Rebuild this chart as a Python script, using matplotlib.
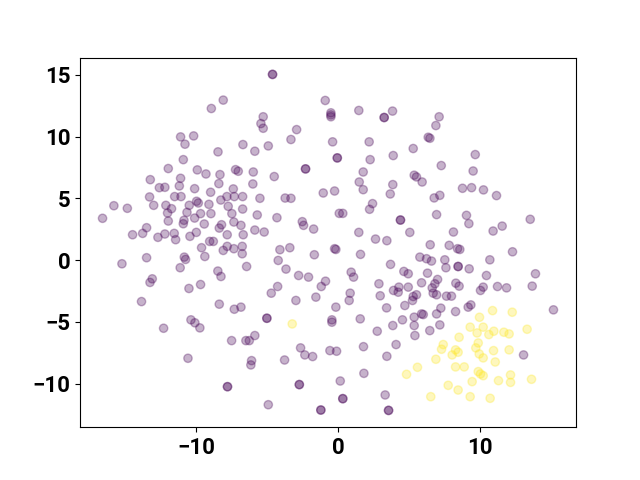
import numpy as np
import matplotlib.pyplot as plt

# points, (x, y); repeated entries are stacked points
purple_pts = [
    (-8.09, 12.95), (-8.93, 12.27), (-11.10, 9.97), (-10.18, 10.05), (-10.79, 9.38),
    (-6.70, 9.35), (-8.46, 8.76), (-10.91, 8.13), (-11.97, 7.41), (-9.92, 7.30),
    (-9.31, 6.97), (-7.22, 7.32), (-7.03, 7.19), (-8.32, 6.92), (-13.24, 6.51),
    (-11.10, 6.62), (-8.40, 6.19), (-12.60, 5.86), (-12.21, 5.89), (-11.19, 6.00),
    (-10.11, 5.78), (-7.38, 5.76), (-8.98, 5.49), (-13.29, 5.11), (-11.52, 5.14),
    (-11.07, 5.14), (-7.83, 5.14), (-7.31, 5.14), (-6.72, 5.14), (-15.81, 4.40),
    (-14.86, 4.19), (-13.00, 4.43), (-12.14, 4.43), (-11.74, 4.16), (-12.02, 3.81),
    (-10.49, 4.43), (-9.97, 4.76), (-9.85, 4.62), (-9.10, 4.51), (-8.26, 4.86),
    (-7.74, 4.35), (-6.72, 4.13), (-7.48, 3.76), (-10.65, 3.86), (-9.69, 3.76),
    (-8.96, 3.76), (-10.11, 3.40), (-16.61, 3.38), (-11.97, 3.16), (-10.86, 3.22),
    (-10.91, 2.94), (-9.43, 2.92), (-7.34, 3.08), (-6.84, 2.81), (-8.21, 2.86),
    (-8.37, 2.59), (-13.50, 2.62), (-13.78, 2.16), (-14.49, 2.05), (-12.70, 1.84),
    (-12.21, 2.11), (-11.55, 2.16), (-11.45, 1.65), (-10.44, 1.92), (-9.99, 2.24),
    (-7.81, 2.05), (-6.68, 2.05), (-9.05, 1.51), (-8.79, 1.51),
    # lower left
    (-9.62, 1.00), (-7.81, 1.11), (-7.34, 0.92), (-6.75, 1.11), (-8.09, 0.78),
    (-6.75, 0.51), (-15.24, -0.30), (-13.50, 0.19), (-10.84, 0.24), (-10.75, 0.05),
    (-9.39, 0.29), (-11.13, -0.62), (-13.10, -1.52), (-13.26, -1.81), (-8.47, -0.89),
    (-8.25, -1.33), (-10.51, -2.30), (-9.69, -1.98), (-6.44, -0.52), (-13.86, -3.36),
    (-8.37, -3.57), (-7.31, -3.98), (-6.84, -3.81), (-10.37, -4.84), (-10.09, -5.08),
    (-9.74, -5.49), (-12.30, -5.52), (-7.50, -6.52), (-6.49, -6.52), (-10.58, -7.95),
    (-7.79, -10.25), (-7.79, -10.25),
    # top middle
    (-4.61, 15.03), (-4.61, 15.03), (-0.89, 12.92), (-0.49, 11.92), (-0.49, 11.75),
    (-0.49, 11.60), (1.48, 12.11), (3.27, 11.54), (3.27, 11.54), (3.86, 12.06),
    (-5.27, 11.60), (-5.43, 11.05), (-5.27, 10.67), (-2.91, 10.56), (-3.31, 9.76),
    (-5.86, 8.81), (-4.91, 9.24), (-0.37, 9.57), (2.21, 9.57), (-0.04, 8.27),
    (-0.04, 8.27), (2.28, 8.13), (3.91, 8.46), (-2.28, 7.38), (-2.28, 7.38),
    (-5.97, 7.13), (-4.49, 6.76), (1.79, 7.13), (-6.00, 6.16), (1.51, 6.32),
    (1.79, 5.70), (3.88, 6.11), (3.70, 5.35), (-1.03, 5.43), (-0.23, 5.59),
    (-3.72, 5.02), (-3.31, 5.00), (-5.50, 5.00), (2.45, 4.57), (2.24, 4.11),
    (-5.69, 3.65), (-4.30, 3.43), (0.10, 3.78), (0.35, 3.78), (-2.51, 3.11),
    (-2.42, 2.81), (-1.71, 2.51), (4.42, 3.24), (4.42, 3.24), (-5.86, 2.43),
    (-5.20, 2.27), (1.48, 2.24), (2.66, 1.70), (3.46, 1.57), (5.08, 2.24),
    # top right
    (7.15, 11.60), (6.92, 10.89), (6.38, 9.94), (6.50, 9.86), (5.32, 9.03),
    (9.70, 8.54), (7.30, 7.65), (9.55, 7.21), (5.39, 6.87), (5.55, 6.73),
    (5.95, 6.32), (8.80, 5.81), (9.44, 5.86), (10.28, 5.68), (11.20, 5.22),
    (6.80, 5.03), (7.20, 5.24), (6.97, 3.68), (9.08, 3.62), (9.25, 2.95),
    (13.58, 3.30), (8.16, 2.27), (10.96, 2.35), (11.60, 2.75),
    # lower middle
    (-4.09, 0.84), (-3.39, 1.00), (-1.66, 0.43), (-0.23, 0.92), (-0.14, 0.86),
    (1.60, 0.46), (-4.21, -0.03), (-3.66, -0.73), (-2.77, -1.25), (-2.07, -1.38),
    (-0.87, -1.71), (-1.17, -2.14), (0.94, -0.98), (1.11, -1.38), (-4.25, -2.14),
    (-4.70, -2.68), (-2.96, -3.27), (-1.55, -3.00), (0.87, -2.68), (0.80, -3.27),
    (-0.14, -3.81), (-5.01, -4.71), (-5.01, -4.71), (-0.42, -4.84), (-0.42, -5.03),
    (1.58, -4.76), (-5.86, -6.11), (-6.25, -6.52), (-6.09, -8.14), (-6.14, -8.49),
    (-2.63, -7.11), (-2.33, -7.68), (-1.78, -7.81), (-0.56, -7.33), (-0.09, -7.38),
    (1.81, -7.01), (-3.76, -8.09), (1.84, -9.17), (-2.72, -10.08), (-2.72, -10.08),
    (0.17, -9.79), (0.35, -11.22), (0.35, -11.22), (-1.20, -12.14), (-1.20, -12.14),
    (3.58, -12.17), (3.58, -12.17), (-4.91, -11.71), (3.34, -10.92), (3.72, -0.35),
    (4.66, -0.92), (4.97, -1.11), (2.90, -1.92), (2.99, -2.89), (3.44, -3.87),
    (3.93, -2.46), (4.26, -2.60), (4.31, -2.19), (4.97, -2.19), (4.73, -3.68),
    (4.56, -4.84), (3.88, -5.30), (2.78, -5.76), (4.11, -6.84), (3.46, -7.79),
    # lower right
    (6.52, 1.24), (7.86, 1.19), (8.45, 0.92), (8.61, 0.86), (12.33, 0.67),
    (5.79, 0.24), (6.26, 0.11), (6.61, -0.08), (7.55, 0.02), (10.73, 0.02),
    (7.63, -0.62), (8.49, -0.52), (8.49, -0.52), (9.27, -0.71), (6.33, -1.06),
    (10.49, -1.25), (13.95, -1.11), (7.04, -1.57), (6.85, -1.92), (6.66, -2.25),
    (5.91, -1.84), (8.33, -1.87), (8.56, -2.11), (10.26, -2.19), (10.07, -2.46),
    (11.27, -2.14), (11.91, -2.25), (13.72, -2.11), (5.55, -2.81), (5.32, -2.95),
    (6.73, -2.68), (6.97, -2.81), (7.67, -2.92), (8.02, -2.92), (5.27, -3.27),
    (7.27, -3.89), (5.91, -4.36), (6.03, -4.41), (6.97, -4.36), (8.31, -4.17),
    (9.20, -3.81), (9.39, -3.63), (7.20, -5.25), (6.49, -5.71), (5.39, -4.62),
    (5.39, -5.30), (5.44, -6.11), (15.22, -4.03), (13.11, -7.68),
]

yellow_pts = [
    (-3.22, -5.17), (4.85, -9.25),
    (10.92, -4.09), (12.31, -4.22), (10.00, -4.63), (9.34, -5.43), (10.26, -5.43),
    (9.83, -5.90), (10.66, -6.03), (11.01, -5.76), (11.72, -5.84), (12.09, -5.98),
    (13.36, -5.60), (8.56, -6.25), (7.44, -6.84), (7.32, -7.22), (9.91, -6.71),
    (9.74, -7.11), (9.98, -7.60), (10.26, -7.92), (8.31, -7.27), (8.49, -7.46),
    (8.07, -7.68), (10.99, -7.33), (12.09, -7.27), (6.92, -8.03), (11.11, -8.25),
    (5.62, -8.68), (8.31, -8.65), (8.92, -8.65), (9.91, -9.03), (10.07, -9.22),
    (10.26, -9.36), (12.19, -9.30), (12.19, -9.90), (11.34, -9.76), (13.67, -9.65),
    (9.48, -9.84), (7.79, -10.14), (8.49, -10.52), (6.56, -11.06), (9.34, -11.06),
    (10.75, -11.19),
]

xticks = [-10, 0, 10]

px, py = zip(*purple_pts)
yx, yy = zip(*yellow_pts)
x = np.array(px + yx)
y = np.array(py + yy)
labels = np.array([0] * len(px) + [1] * len(yx))

plt.rcParams['font.family'] = ['Roboto', 'DejaVu Sans']

fig, ax = plt.subplots(figsize=(6.4, 4.8), dpi=100)
ax.scatter(x, y, c=labels, cmap='viridis', alpha=0.3)

plt.xticks(xticks, fontsize=16, fontweight='bold')
plt.yticks(fontsize=16, fontweight='bold')

plt.savefig("out.png")
